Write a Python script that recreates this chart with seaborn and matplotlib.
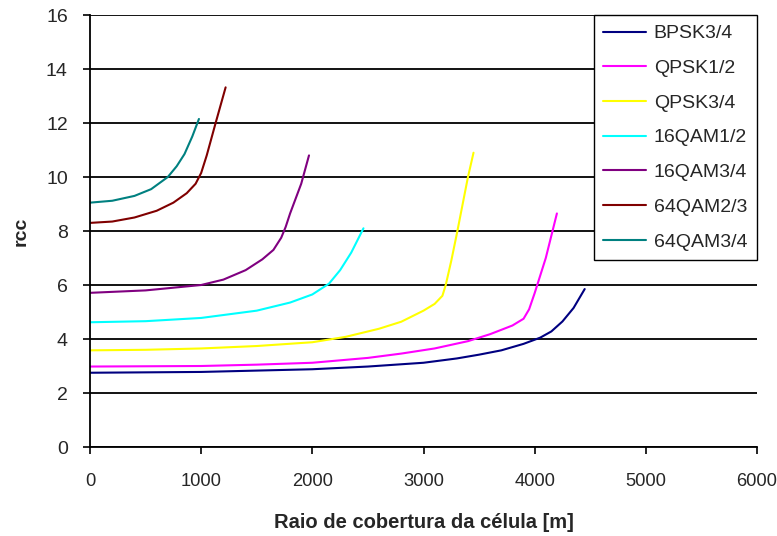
import numpy as np
import pandas as pd
import matplotlib
matplotlib.use("Agg")
import matplotlib.pyplot as plt
import seaborn as sns

sns.set_style("white")
plt.rcParams['font.family'] = ['Liberation Sans', 'DejaVu Sans']

# curves: radius [m] -> rcc
bpsk34_x = [0, 1000, 2000, 2500, 3000, 3300, 3500, 3700, 3900, 4050, 4150, 4250, 4350, 4450]
bpsk34_y = [2.75, 2.78, 2.88, 2.98, 3.12, 3.28, 3.42, 3.58, 3.82, 4.05, 4.28, 4.65, 5.15, 5.85]

qpsk12_x = [0, 1000, 1500, 2000, 2500, 2800, 3100, 3400, 3600, 3800, 3900, 3950, 4000, 4100, 4200]
qpsk12_y = [2.98, 3.0, 3.05, 3.12, 3.3, 3.46, 3.65, 3.92, 4.18, 4.5, 4.75, 5.1, 5.7, 7.0, 8.65]

qpsk34_x = [0, 500, 1000, 1500, 2000, 2300, 2600, 2800, 3000, 3100, 3170, 3200, 3250, 3300, 3400, 3450]
qpsk34_y = [3.58, 3.6, 3.65, 3.74, 3.88, 4.08, 4.38, 4.64, 5.05, 5.3, 5.6, 6.0, 6.9, 7.9, 10.0, 10.9]

qam16_12_x = [0, 500, 1000, 1500, 1800, 2000, 2150, 2250, 2350, 2460]
qam16_12_y = [4.62, 4.66, 4.78, 5.05, 5.35, 5.65, 6.05, 6.55, 7.2, 8.1]

qam16_34_x = [0, 500, 1000, 1200, 1400, 1550, 1650, 1720, 1760, 1800, 1900, 1970]
qam16_34_y = [5.71, 5.8, 6.0, 6.2, 6.55, 6.95, 7.3, 7.75, 8.15, 8.65, 9.75, 10.8]

qam64_23_x = [0, 200, 400, 600, 750, 870, 950, 1000, 1050, 1130, 1220]
qam64_23_y = [8.3, 8.35, 8.5, 8.75, 9.05, 9.4, 9.75, 10.15, 10.8, 12.0, 13.32]

qam64_34_x = [0, 200, 400, 550, 700, 780, 850, 920, 980]
qam64_34_y = [9.05, 9.12, 9.3, 9.55, 10.0, 10.4, 10.85, 11.5, 12.15]

names = ["BPSK3/4", "QPSK1/2", "QPSK3/4", "16QAM1/2", "16QAM3/4", "64QAM2/3", "64QAM3/4"]
colors = ["#000080", "#FF00FF", "#FFFF00", "#00FFFF", "#800080", "#800000", "#008080"]

series = [(bpsk34_x, bpsk34_y), (qpsk12_x, qpsk12_y), (qpsk34_x, qpsk34_y),
          (qam16_12_x, qam16_12_y), (qam16_34_x, qam16_34_y),
          (qam64_23_x, qam64_23_y), (qam64_34_x, qam64_34_y)]

frames = []
for name, (xs, ys) in zip(names, series):
    frames.append(pd.DataFrame({"raio": xs, "rcc": ys, "modo": name}))
df = pd.concat(frames, ignore_index=True)

fig = plt.figure(figsize=(7.77, 5.36), dpi=100)
ax = fig.add_axes([90 / 777, 1 - 447 / 536, (757 - 90) / 777, (447 - 15) / 536])

sns.lineplot(data=df, x="raio", y="rcc", hue="modo", hue_order=names,
             palette=dict(zip(names, colors)), sort=False, linewidth=1.5, ax=ax)

ax.set_xlim(0, 6000)
ax.set_ylim(0, 16)
ax.set_xticks(np.arange(0, 6001, 1000))
ax.set_yticks(np.arange(0, 17, 2))
ax.yaxis.grid(True, color="black", linewidth=1.3)
ax.set_axisbelow(True)
for s in ["top", "right"]:
    ax.spines[s].set_visible(False)
for s in ["left", "bottom"]:
    ax.spines[s].set_color("black")
    ax.spines[s].set_linewidth(1.3)
ax.tick_params(axis="both", direction="out", length=5, width=1.2, color="black",
               labelsize=14, left=True, bottom=True)
ax.tick_params(axis="x", pad=14, labelsize=13.2)
ax.tick_params(axis="y", pad=11)

ax.set_xlabel("Raio de cobertura da célula [m]", fontsize=14.5, fontweight="bold", labelpad=16)
ax.set_ylabel("rcc", fontsize=14, fontweight="bold", labelpad=12)

leg = ax.legend(loc="upper right", frameon=True, fancybox=False, fontsize=14,
                handlelength=2.2, handletextpad=0.4, labelspacing=0.88, borderpad=0.5,
                borderaxespad=0, bbox_to_anchor=(1.0, 1.0))
leg.get_frame().set_edgecolor("black")
leg.get_frame().set_linewidth(1.0)
leg.get_frame().set_alpha(1)

fig.savefig("out.png", dpi=100)
